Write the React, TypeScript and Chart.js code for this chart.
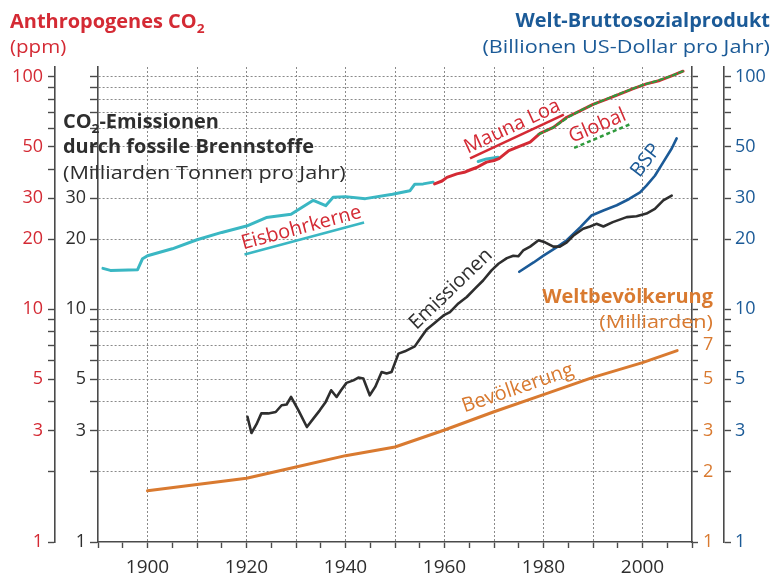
import React, { useEffect, useRef } from "react";
import { Chart, registerables } from "chart.js";

Chart.register(...registerables);

// ---------------- data ----------------
const ICE_YEARS = [1891, 1892.5, 1898, 1899, 1900, 1905, 1910, 1915, 1920, 1924, 1929, 1933.5, 1936, 1937.5, 1940, 1944, 1949.5, 1953, 1954, 1955.7, 1957.7];
const ICE_PPM = [15.0, 14.7, 14.8, 16.5, 17.0, 18.2, 19.9, 21.4, 22.8, 24.8, 25.6, 29.4, 27.9, 30.3, 30.5, 29.9, 31.2, 32.3, 34.5, 34.6, 35.2];
const ICE_LATE_YEARS = [1966.8, 1968.5, 1970.8];
const ICE_LATE_PPM = [43.2, 44.3, 45.0];

const MLO_YEARS = [1958, 1959.5, 1960.5, 1962.5, 1964, 1965, 1966.5, 1968.5, 1970, 1971, 1973, 1975, 1977.3, 1979.3, 1982, 1984.7, 1987.4, 1990, 1992.8, 1995.5, 1998, 2000.8, 2003.5, 2006, 2008.2];
const MLO_PPM = [34.6, 35.6, 36.9, 38.2, 38.8, 39.6, 40.7, 42.9, 43.6, 44.4, 48.1, 50.0, 52.3, 57.0, 60.5, 66.9, 71.3, 76.0, 80.0, 84.3, 88.6, 93.1, 96.3, 101, 105.5];

const GLOBAL_YEARS = [1979, 1982, 1985, 1988, 1991, 1994, 1997, 2000, 2003, 2006, 2008.2];
const GLOBAL_PPM = [56.5, 60.5, 67.0, 72.5, 77.5, 82.2, 87.0, 92.0, 96.0, 101, 105.5];

const EMI_YEARS = [1920.2, 1921, 1922, 1923, 1924.4, 1925.9, 1927.1, 1928.1, 1929, 1930.5, 1932.2, 1933.5, 1934.8, 1936, 1937.1, 1938.2, 1939.1, 1940.2, 1941.6, 1942.6, 1943.6, 1944.9, 1946, 1947.3, 1948.3, 1949.3, 1950.7, 1952, 1954, 1955.1, 1956.4, 1958, 1959.8, 1961.1, 1962.8, 1964.5, 1966.2, 1967.8, 1969.5, 1970.9, 1972.6, 1973.9, 1974.9, 1975.9, 1977.3, 1979, 1980.3, 1982, 1983.3, 1984.7, 1986, 1988, 1989.4, 1990.7, 1992.1, 1994, 1996.8, 1998.8, 2000.8, 2002.5, 2004.2, 2005.9];
const EMI_GT = [3.45, 2.94, 3.2, 3.57, 3.57, 3.62, 3.87, 3.9, 4.2, 3.68, 3.12, 3.39, 3.68, 4.0, 4.49, 4.2, 4.49, 4.83, 4.95, 5.09, 5.04, 4.27, 4.64, 5.38, 5.3, 5.38, 6.45, 6.6, 6.93, 7.49, 8.19, 8.73, 9.41, 9.73, 10.6, 11.3, 12.3, 13.3, 14.7, 15.7, 16.6, 17.0, 16.9, 17.9, 18.6, 19.8, 19.4, 18.6, 18.6, 19.4, 20.7, 22.2, 22.7, 23.3, 22.7, 23.7, 24.9, 25.1, 25.8, 27.0, 29.4, 30.8];

const GDP_YEARS = [1975.1, 1978, 1980, 1982.7, 1984.7, 1987.4, 1989.7, 1992.1, 1994.8, 1997.3, 1999.5, 2000.8, 2002.5, 2004.2, 2005.9, 2006.9];
const GDP_TUSD = [14.5, 15.9, 17.0, 18.5, 19.8, 22.5, 25.3, 26.6, 28.0, 29.8, 31.8, 34.0, 37.5, 42.9, 49.1, 54.3];

const POP_YEARS = [1900, 1920, 1930, 1940, 1950, 1960, 1970, 1980, 1990, 2000, 2007];
const POP_BILLION = [1.66, 1.88, 2.1, 2.35, 2.56, 3.03, 3.63, 4.3, 5.1, 5.9, 6.65];

// ---------------- ticks / labels ----------------
const Y_TICKS = [1, 2, 3, 4, 5, 6, 7, 8, 9, 10, 20, 30, 40, 50, 60, 70, 80, 90, 100];
const RED_LABELS = [1, 3, 5, 10, 20, 30, 50, 100];
const BLACK_LABELS = [1, 3, 5, 10, 20, 30];
const ORANGE_LABELS = [1, 2, 3, 5, 7];
const BLUE_LABELS = [1, 3, 5, 10, 20, 30, 50, 100];
const X_LABELS = [1900, 1920, 1940, 1960, 1980, 2000];

// ---------------- styles ----------------
const FAMILY = '"Open Sans", "Noto Sans", sans-serif';
const RED = "#d42a34";
const BLUE = "#1b5a97";
const ORANGE = "#d97a30";
const CYAN = "#3ab7c3";
const GREEN = "#2f9a3c";
const DARK = "#2e2e2e";
const AXIS = "#4a4a4a";
const GRID = "#8a8a8a";

// in-plot labels anchored in data coordinates
const CURVE_LABELS = [
  { text: "Eisbohrkerne", year: 1931.1, value: 22.4, angle: -15, color: RED, line: CYAN, dash: [] as number[] },
  { text: "Mauna Loa", year: 1973.7, value: 61.0, angle: -25, color: RED, line: RED, dash: [] as number[] },
  { text: "Global", year: 1990.9, value: 61.3, angle: -23, color: RED, line: GREEN, dash: [4, 3] },
  { text: "BSP", year: 2000.7, value: 43.6, angle: -52, color: BLUE, line: null, dash: [] as number[] },
  { text: "Emissionen", year: 1961.3, value: 12.2, angle: -44, color: DARK, line: null, dash: [] as number[] },
  { text: "Bevölkerung", year: 1974.8, value: 4.58, angle: -19, color: ORANGE, line: null, dash: [] as number[] },
];

const pts = (xs: number[], ys: number[]) => xs.map((x, i) => ({ x, y: ys[i] }));

type Run = { t: string; bold?: boolean; sub?: boolean };
function drawRuns(ctx: CanvasRenderingContext2D, runs: Run[], x: number, y: number, align: "left" | "right", color: string, size: number, sx: number) {
  const fontFor = (r: Run) => `${r.bold ? "bold " : ""}${r.sub ? Math.round(size * 0.68) : size}px ${FAMILY}`;
  let total = 0;
  const widths = runs.map((r) => {
    ctx.font = fontFor(r);
    const w = ctx.measureText(r.t).width;
    total += w;
    return w;
  });
  ctx.save();
  const startX = align === "left" ? x : x - total * sx;
  ctx.translate(startX, y);
  ctx.scale(sx, 1);
  ctx.fillStyle = color;
  ctx.textAlign = "left";
  ctx.textBaseline = "alphabetic";
  let cx = 0;
  runs.forEach((r, i) => {
    ctx.font = fontFor(r);
    ctx.fillText(r.t, cx, r.sub ? size * 0.25 : 0);
    cx += widths[i];
  });
  ctx.restore();
}

const annotations = {
  id: "annotations",
  afterDraw(chart: any) {
    const { ctx, scales } = chart;
    const xs = scales.x;
    const ys = scales.y;
    ctx.save();
    const B = 1.05;
    const N = 1.14;
    // axis titles
    drawRuns(ctx, [{ t: "Anthropogenes CO", bold: true }, { t: "2", bold: true, sub: true }], 10, 28, "left", RED, 19, B);
    drawRuns(ctx, [{ t: "(ppm)" }], 10, 53, "left", RED, 19, 1.08);
    drawRuns(ctx, [{ t: "Welt-Bruttosozialprodukt", bold: true }], 770, 27, "right", BLUE, 19, B);
    drawRuns(ctx, [{ t: "(Billionen US-Dollar pro Jahr)" }], 770, 53, "right", BLUE, 19, N);
    drawRuns(ctx, [{ t: "CO", bold: true }, { t: "2", bold: true, sub: true }, { t: "-Emissionen", bold: true }], 63, 128, "left", DARK, 19, B);
    drawRuns(ctx, [{ t: "durch fossile Brennstoffe", bold: true }], 63, 153, "left", DARK, 19, B);
    drawRuns(ctx, [{ t: "(Milliarden Tonnen pro Jahr)" }], 63, 179, "left", DARK, 19, N);
    drawRuns(ctx, [{ t: "Weltbevölkerung", bold: true }], 713, 303, "right", ORANGE, 19, B);
    drawRuns(ctx, [{ t: "(Milliarden)" }], 713, 328, "right", ORANGE, 19, N);

    // curve labels
    CURVE_LABELS.forEach((l) => {
      const cx = xs.getPixelForValue(l.year);
      const cy = ys.getPixelForValue(l.value);
      ctx.save();
      ctx.translate(cx, cy);
      ctx.rotate((l.angle * Math.PI) / 180);
      ctx.font = `20px ${FAMILY}`;
      ctx.fillStyle = l.color;
      ctx.textAlign = "center";
      ctx.textBaseline = "middle";
      ctx.fillText(l.text, 0, 0);
      if (l.line) {
        const w = ctx.measureText(l.text).width;
        ctx.strokeStyle = l.line;
        ctx.lineWidth = 2.5;
        ctx.setLineDash(l.dash);
        ctx.beginPath();
        ctx.moveTo(-w / 2, 11);
        ctx.lineTo(w / 2, 11);
        ctx.stroke();
      }
      ctx.restore();
    });
    ctx.restore();
  },
};

function logAxis(position: string, weight: number, width: number, color: string, labels: number[], tickLength: number, padding: number, onChart: boolean) {
  return {
    type: "logarithmic",
    position,
    weight,
    min: 1,
    max: 110,
    afterBuildTicks: (s: any) => {
      s.ticks = Y_TICKS.map((v) => ({ value: v }));
    },
    afterFit: (s: any) => {
      s.width = width;
    },
    border: { display: true, color: AXIS, width: 1.6, dash: onChart ? [2, 2] : [] },
    grid: {
      drawOnChartArea: onChart,
      drawTicks: true,
      color: (c: any) => (c.tick && c.tick.value === 1 ? "rgba(0,0,0,0)" : GRID),
      lineWidth: 1,
      tickLength,
      tickColor: AXIS,
      tickWidth: 1.4,
      tickBorderDash: [],
    },
    ticks: {
      autoSkip: false,
      padding,
      color,
      font: { family: FAMILY, size: 18 },
      callback: (v: any) => (labels.includes(Number(v)) ? String(v) : ""),
    },
  };
}

export default function App() {
  const ref = useRef<HTMLCanvasElement | null>(null);
  useEffect(() => {
    if (!ref.current) return;
    const chart = new Chart(ref.current, {
      type: "line",
      data: {
        datasets: [
          { label: "Global", data: pts(GLOBAL_YEARS, GLOBAL_PPM), borderColor: GREEN, borderDash: [4, 3], borderWidth: 2.2, yAxisID: "y" },
          { label: "Mauna Loa", data: pts(MLO_YEARS, MLO_PPM), borderColor: RED, borderWidth: 3, yAxisID: "y" },
          { label: "Eisbohrkerne", data: [...pts(ICE_YEARS, ICE_PPM), { x: 1962, y: null }, ...pts(ICE_LATE_YEARS, ICE_LATE_PPM)], borderColor: CYAN, borderWidth: 3, yAxisID: "y", spanGaps: false },
          { label: "Emissionen", data: pts(EMI_YEARS, EMI_GT), borderColor: DARK, borderWidth: 2.6, yAxisID: "y" },
          { label: "BSP", data: pts(GDP_YEARS, GDP_TUSD), borderColor: BLUE, borderWidth: 2.6, yAxisID: "y" },
          { label: "Bevölkerung", data: pts(POP_YEARS, POP_BILLION), borderColor: ORANGE, borderWidth: 3, yAxisID: "y" },
        ] as any,
      },
      options: {
        responsive: false,
        animation: false,
        layout: { padding: { top: 67, left: 0, right: 0, bottom: 0 } },
        plugins: { legend: { display: false }, tooltip: { enabled: false } },
        elements: { point: { radius: 0 }, line: { tension: 0, borderCapStyle: "round", borderJoinStyle: "round", fill: false } },
        scales: {
          x: {
            type: "linear",
            position: "bottom",
            min: 1890,
            max: 2010,
            afterFit: (s: any) => {
              s.height = 31;
            },
            border: { display: true, color: AXIS, width: 1.6, dash: [2, 2] },
            grid: {
              color: (c: any) => (c.tick && c.tick.value % 10 === 0 && c.tick.value > 1890 && c.tick.value < 2010 ? GRID : "rgba(0,0,0,0)"),
              lineWidth: 1,
              tickLength: 6,
              tickColor: AXIS,
              tickWidth: 1.4,
              tickBorderDash: [],
            },
            ticks: {
              stepSize: 5,
              autoSkip: false,
              maxRotation: 0,
              padding: 8,
              color: DARK,
              font: { family: FAMILY, size: 19 },
              callback: (v: any) => (X_LABELS.includes(Number(v)) ? String(v) : ""),
            },
          },
          y: logAxis("left", 0, 43, DARK, BLACK_LABELS, 8, 4, true),
          yRed: logAxis("left", 1, 55, RED, RED_LABELS, 7, 5, false),
          yOrange: logAxis("right", 0, 32, ORANGE, ORANGE_LABELS, 6, 5, false),
          yBlue: logAxis("right", 1, 51, BLUE, BLUE_LABELS, 7, 4, false),
        } as any,
      },
      plugins: [annotations],
    });
    return () => chart.destroy();
  }, []);

  return (
    <div style={{ position: "fixed", left: 0, top: 0, width: 775, height: 573, background: "#fff" }}>
      <canvas ref={ref} width={775} height={573} style={{ display: "block" }} />
    </div>
  );
}
